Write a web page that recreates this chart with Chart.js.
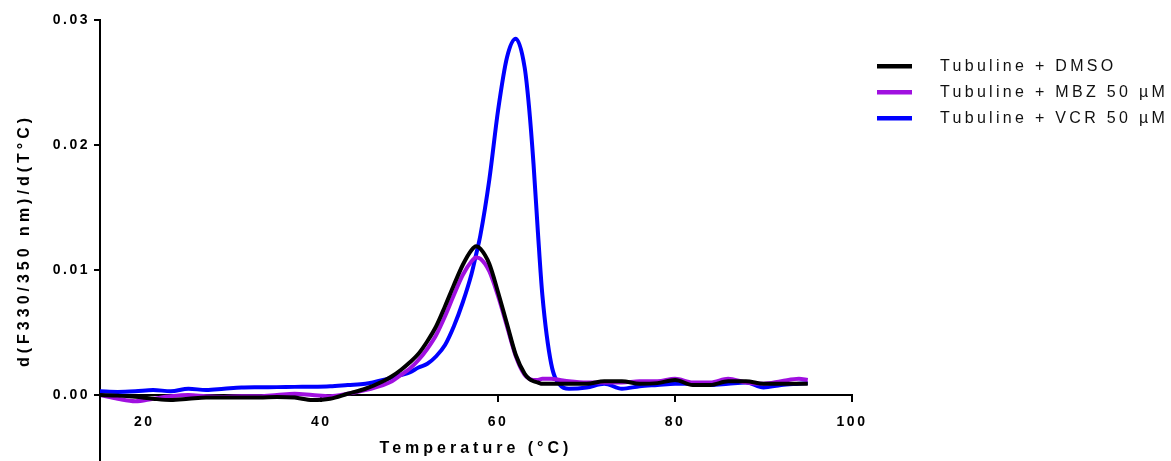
<!DOCTYPE html>
<html>
<head>
<meta charset="utf-8">
<script src="https://cdn.jsdelivr.net/npm/chart.js@4"></script>
<style>
  html, body { margin: 0; padding: 0; background: #fff; }
  #wrap { width: 1171px; height: 461px; position: relative; }
</style>
</head>
<body>
<div id="wrap"><canvas id="chart"></canvas></div>
<script>
// temperature grid (°C) shared by the three curves
const temps = [15, 17, 19, 21, 23, 25, 27, 29, 31, 33, 35, 37, 39, 41, 43, 45,
  47, 48, 49, 50, 51, 52, 53, 54, 55, 56, 57,
  57.5, 58, 59, 60, 61, 62, 63,
  63.5, 64, 64.5, 65, 66, 67, 68,
  70, 72, 74, 76, 78, 80, 82, 84, 86, 88, 90, 92, 94, 95];

const dmso = [0, -0.00005, -0.00015, -0.0003, -0.0004, -0.0003, -0.0002, -0.0002, -0.0002, -0.0002, -0.00015, -0.0002, -0.0004, -0.0003, 0.0001, 0.0005,
  0.0011, 0.0015, 0.0020, 0.0026, 0.0033, 0.0043, 0.0055, 0.0071, 0.0088, 0.0104, 0.0116,
  0.0119, 0.0117, 0.0105, 0.0082, 0.0057, 0.0032, 0.0017,
  0.0013, 0.0011, 0.0010, 0.0009, 0.0009, 0.0009, 0.0009,
  0.0009, 0.0011, 0.0011, 0.0009, 0.00095, 0.0012, 0.0008, 0.0008, 0.0011, 0.0011, 0.0009, 0.0009, 0.0009, 0.0009];

const mbz = [0, -0.0003, -0.0005, -0.0003, -0.0001, 0, -0.0001, -0.00015, -0.0001, -0.0001, 0, 0.0001, 0, -0.0001, 0.0001, 0.0004,
  0.0008, 0.0011, 0.0016, 0.0021, 0.0028, 0.0037, 0.0048, 0.0063, 0.0080, 0.0096, 0.0107,
  0.0110, 0.0109, 0.0099, 0.0079, 0.0055, 0.0031, 0.0016,
  0.0013, 0.0012, 0.0012, 0.0013, 0.0013, 0.0012, 0.0011,
  0.0010, 0.0010, 0.0010, 0.0011, 0.0011, 0.0013, 0.0010, 0.0010, 0.0013, 0.0010, 0.0009, 0.0011, 0.0013, 0.0012];

const vcr = [0.0003, 0.00025, 0.0003, 0.0004, 0.0003, 0.0005, 0.0004, 0.0005, 0.0006, 0.00062, 0.00063, 0.00065, 0.00066, 0.0007, 0.0008, 0.0009,
  0.0012, 0.0014, 0.0016, 0.0018, 0.0022, 0.0025, 0.0031, 0.0040, 0.0055, 0.0074, 0.0097,
  0.0112, 0.0128, 0.0172, 0.0228, 0.0270, 0.0285, 0.0262,
  0.0230, 0.0185, 0.0130, 0.0080, 0.0025, 0.0008, 0.0005,
  0.0006, 0.0009, 0.0005, 0.0007, 0.0008, 0.0009, 0.0009, 0.0008, 0.0009, 0.0010, 0.0006, 0.0008, 0.0009, 0.00095];

const seriesNames = ['Tubuline + DMSO', 'Tubuline + MBZ 50 µM', 'Tubuline + VCR 50 µM'];
const seriesColors = ['#000000', '#a010e0', '#0000ff'];
const xTicks = [20, 40, 60, 80, 100];
const yTicks = [0, 0.01, 0.02, 0.03];

const FONT = '"Liberation Sans", Arial, Helvetica, sans-serif';
Chart.defaults.font.family = FONT;
Chart.defaults.color = '#000';

const points = (vals) => temps.map((t, i) => ({ x: t, y: vals[i] }));

// spaced lettering: wrap each scale's label/title drawing
const spacing = {
  id: 'spacing',
  beforeDraw(chart) {
    Object.values(chart.scales).forEach((s) => {
      if (s._spaced) return;
      const drawLabels = s.drawLabels;
      const drawTitle = s.drawTitle;
      s.drawLabels = function (area) { this.ctx.letterSpacing = '2.5px'; drawLabels.call(this, area); this.ctx.letterSpacing = '0px'; };
      s.drawTitle = function () { this.ctx.letterSpacing = '4px'; drawTitle.call(this); this.ctx.letterSpacing = '0px'; };
      s._spaced = true;
    });
  }
};

// legend to the right of the plot, thick line markers
const sideLegend = {
  id: 'sideLegend',
  afterDraw(chart) {
    const ctx = chart.ctx;
    ctx.save();
    ctx.font = '16px ' + FONT;
    ctx.letterSpacing = '3.3px';
    ctx.textBaseline = 'middle';
    ctx.textAlign = 'left';
    chart.data.datasets.forEach((ds, i) => {
      const y = 66 + i * 26;
      ctx.fillStyle = ds.borderColor;
      ctx.fillRect(877, y - 2, 35, 4.5);
      ctx.fillStyle = '#111';
      ctx.fillText(ds.label, 940, y + 1);
    });
    ctx.restore();
  }
};

const datasets = [dmso, mbz, vcr].map((vals, i) => ({
  label: seriesNames[i],
  data: points(vals),
  borderColor: seriesColors[i],
  backgroundColor: seriesColors[i],
  borderWidth: 4,
  pointRadius: 0,
  fill: false,
  cubicInterpolationMode: 'monotone'
}));

new Chart(document.getElementById('chart'), {
  type: 'line',
  data: { datasets },
  plugins: [spacing, sideLegend],
  options: {
    responsive: true,
    maintainAspectRatio: false,
    animation: false,
    layout: { padding: { left: 0, top: 20, right: 319, bottom: 0 } },
    plugins: {
      legend: { display: false },
      tooltip: { enabled: false }
    },
    scales: {
      x: {
        type: 'linear',
        min: 15,
        max: 100,
        position: { y: 0 },
        afterBuildTicks: (s) => { s.ticks = xTicks.map(v => ({ value: v })); },
        grid: { drawOnChartArea: false, drawTicks: true, tickLength: 6, color: '#000', lineWidth: 2 },
        border: { color: '#000', width: 2 },
        ticks: { font: { size: 14, weight: 'bold' }, color: '#000', padding: 13, maxRotation: 0 },
        title: {
          display: true,
          text: 'Temperature (°C)',
          font: { size: 16, weight: 'bold' },
          color: '#000',
          padding: { top: -5, bottom: 0 }
        }
      },
      y: {
        min: -0.00528,
        max: 0.03,
        afterBuildTicks: (s) => { s.ticks = yTicks.map(v => ({ value: v })); },
        afterFit: (s) => { s.width = 100; s.paddingBottom = 0; },
        grid: { drawOnChartArea: false, drawTicks: true, tickLength: 6, color: '#000', lineWidth: 2 },
        border: { color: '#000', width: 2 },
        ticks: { font: { size: 14, weight: 'bold' }, color: '#000', padding: 4, callback: (v) => v.toFixed(2) },
        title: {
          display: true,
          text: 'd(F330/350 nm)/d(T°C)',
          font: { size: 16, weight: 'bold' },
          color: '#000',
          padding: { top: 15, bottom: 0 }
        }
      }
    }
  }
});
</script>
</body>
</html>
